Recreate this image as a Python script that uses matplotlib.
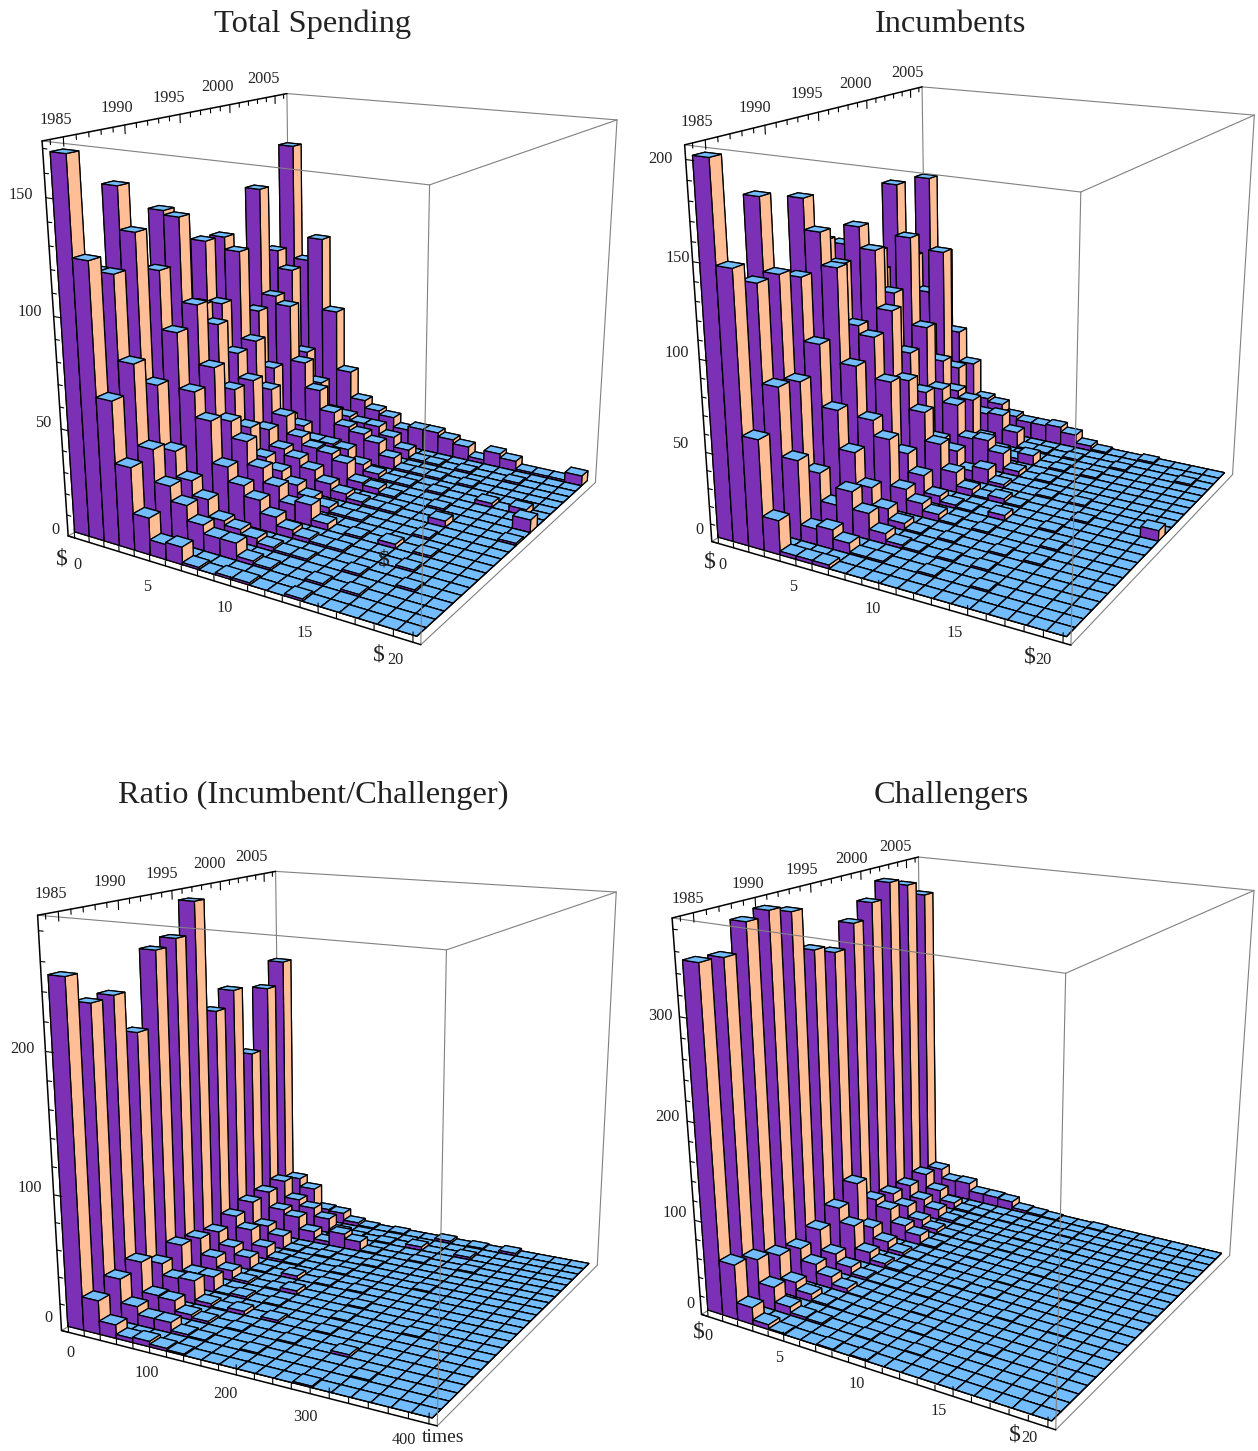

import numpy as np, matplotlib
matplotlib.use('Agg')
import matplotlib.pyplot as plt

W, H = 1258, 1451
plt.rcParams['font.family'] = ['Liberation Serif', 'DejaVu Serif']

years = list(range(1984, 2007))
election_years = list(range(1984, 2007, 2))

def pad(rows):
    return [list(r) + [0] * (20 - len(r)) for r in rows]

total_spending = pad([
    [168,125,66,38,17,7,8,1,0,1,1,0,0,1],
    [116,116,78,41,26,19,12,8,8,2,1,0,0,1,0,1],
    [150,131,64,35,23,16,8,6,4,2,1,1,0,0,1,0,0,1],
    [110,111,84,58,46,26,19,14,8,4,2,1,1,0,0,0,1],
    [134,132,93,65,41,33,22,15,8,10,3,0,1,0,2,0,1],
    [60,88,80,50,33,20,15,10,6,3,1,1,0,0,0,1],
    [114,85,62,50,27,19,16,12,7,4,2,1,1,0,0,3,0,0,0,1],
    [113,107,64,41,29,20,16,15,12,4,3,1,0,0,1,0,0,0,0,6],
    [70,74,46,22,19,13,13,12,6,3,1,1,0,1,0,0,2,0,3],
    [131,78,74,46,33,23,17,15,12,6,1,1,1,0,1],
    [97,88,46,31,17,16,14,14,10,5,1,1,0,1,0,0,1],
    [148,90,102,65,34,20,16,14,9,11,11,9,7,2,7,5,1,1,1,5],
])
incumbents = pad([
    [201,148,61,19,2,2,2],
    [130,136,83,45,9,11,6,1,1,0,0,1,0,0,1],
    [175,136,80,31,15,25,15,6,2,1,0,1,0,1],
    [120,130,95,60,38,20,10,4,1,0,1,0,0,1,0,1],
    [167,150,132,79,50,41,14,8,4,1,0,1,0,0,0,1],
    [140,128,95,90,66,26,15,5,2,1,0,3,0,0,1],
    [134,145,133,100,61,44,27,12,4,1,3,1,0,0,0,1,0,0,0,6],
    [120,127,104,70,48,21,16,6,9,2,0,0,1,0,1],
    [110,86,132,80,44,36,17,18,12,3,0,1],
    [157,70,73,54,37,33,11,5,2,6,0,1,0,1],
    [110,89,115,44,24,18,19,10,1,1,0,1,0,0,1,0,0,0,1],
    [154,109,60,41,20,18,12,10,10,11,8,3,1,0,0,1],
])
ratio = pad([
    [250,25,10,3,4,2,1,0,0,0,0,0,0,1],
    [228,32,14,8,8,2,1,0,0,1,0,0,0,0,0,1],
    [229,36,13,12,4,2,0,1,0,0,1,0,0,2],
    [198,26,17,18,3,1,3,0,2,0,0,1],
    [253,32,12,12,1,2,0,1,0,0,0,1,0,0,0,1],
    [258,29,16,8,2,0,1,3,0,0,0,1],
    [282,26,16,10,1,0,3,0,1,0,1],
    [195,31,22,10,2,1,0,0,1,0,0,0,0,1],
    [207,35,17,11,1,0,1,0,0,1],
    [151,36,23,19,9,3,12,8,1,0,0,1,0,0,1],
    [200,38,24,19,12,3,1,0,1,0,3,0,0,2],
    [218,33,26,10,9,3,1,0,1,0,0,2,0,1,0,2],
])
challengers = pad([
    [350,58,18,5,1,0,0,1,0,1],
    [348,50,25,9,3,2,0,0,1,0,0,1],
    [375,41,16,8,2,1,0,1,0,0,1,0,0,0,1],
    [380,35,22,13,5,1,0,0,0,1],
    [373,43,20,10,3,1,1,0,1,0,0,0,0,1,0,0,1],
    [329,55,39,13,5,2,0,0,0,1,0,1],
    [320,71,24,12,4,1,0,1,0,0,0,1,0,0,0,1],
    [344,40,33,18,11,2,0,0,1,0,0,0,1],
    [360,35,24,12,5,1,0,1,0,1],
    [376,33,20,12,3,1,0,0,0,1,0,0,1],
    [368,35,19,8,2,1,0,1,0,0,0,1],
    [352,30,19,20,11,11,10,3,2,1,0,0,1],
])

PURPLE, PEACH, BLUE = '#7B30B5', '#FFBE96', '#73BDFF'
S = 800
ylim = (1983.4, 2006.4)

panels = [
 dict(title='Total Spending', tc=(313,24), data=total_spending, u=1, xlim=(-.45,20.4), zmax=173, zminor=10, zmajor=50,
      cam=(17.0329,-58.4540,-1.1701,1.0020,0.9899,0.8358,332.8548,337.9120),
      ylab=[(56,120),(117,108),(169,98),(218,87),(264,79)],
      zlab=[('150',21,195),('100',30,312),('50',43,423),('0',55,530)],
      xlab=[('5',147,587),('10',225,608),('15',305,633),('0',77,565),('20',395,660)],
      dollars=[(62,559),(379,655),(384,560)]),
 dict(title='Incumbents', tc=(951,24), data=incumbents, u=1, xlim=(-.45,20.4), zmax=207, zminor=10, zmajor=50,
      cam=(18.1694,-60.6967,-1.1383,1.0268,1.0038,0.8380,975.0538,336.9343),
      ylab=[(697,122),(755,108),(807,94),(855,84),(908,73)],
      zlab=[('200',660,159),('150',678,258),('100',677,353),('50',680,444),('0',699,530)],
      xlab=[('5',793,587),('10',873,609),('15',955,633),('0',722,565),('20',1043,660)],
      dollars=[(710,562),(1030,657)]),
 dict(title='Ratio (Incumbent/Challenger)', tc=(313,795), data=ratio, u=20, xlim=(-9,408), zmax=290, zminor=20, zmajor=100,
      cam=(15.5265,-61.4715,-1.1082,1.0238,1.0047,0.8604,333.4761,1117.8131),
      ylab=[(51,894),(110,882),(162,874),(209,864),(252,857)],
      zlab=[('200',22,1049),('100',30,1188),('0',48,1318)],
      xlab=[('0',70,1353),('100',147,1373),('200',225,1394),('300',305,1417),('400',404,1440)],
      dollars=[]),
 dict(title='Challengers', tc=(951,795), data=challengers, u=1, xlim=(-.45,20.4), zmax=390, zminor=20, zmajor=100,
      cam=(19.2244,-58.7482,-1.1483,1.0025,0.9994,0.8451,966.5347,1113.5449),
      ylab=[(688,899),(748,884),(802,870),(852,859),(895,847)],
      zlab=[('300',660,1016),('200',667,1117),('100',675,1213),('0',690,1304)],
      xlab=[('5',779,1358),('10',857,1384),('15',939,1411),('0',708,1336),('20',1029,1438)],
      dollars=[(699,1332),(1015,1435)]),
]

fig = plt.figure(figsize=(W/100, H/100), dpi=100)

def ftext(x, y, s, size=11.7, **kw):
    fig.text(x/W, 1-y/H, s, fontsize=size, ha='center', va='center', color='#222222', parse_math=False, **kw)

for P in panels:
    e, a, lf, b, c_, zoom, cx, cy = P['cam']
    ax = fig.add_axes([(cx-S/2)/W, 1-(cy+S/2)/H, S/W, S/H], projection='3d')
    ax.set_axis_off()
    ax.patch.set_alpha(0)
    ax.computed_zorder = False
    ax.view_init(e, a)
    ax.set_proj_type('persp', focal_length=float(np.exp(lf)))
    ax.set_box_aspect((1, b, c_), zoom=zoom)
    x0, x1 = P['xlim']; y0, y1 = ylim; zm = P['zmax']; u = P['u']
    ax.set_xlim(x0, x1); ax.set_ylim(y0, y1); ax.set_zlim(0, zm)

    def line(p, q, color='#808080', lw=.8, z=1):
        ax.plot([p[0],q[0]], [p[1],q[1]], [p[2],q[2]], color=color, lw=lw, zorder=z, clip_on=False, solid_capstyle='round')

    A_,A = (x0,y0,zm),(x0,y0,0)
    B_,B = (x1,y0,zm),(x1,y0,0)
    C_,C = (x1,y1,zm),(x1,y1,0)
    D_,D = (x0,y1,zm),(x0,y1,0)
    line(D_, D); line(C_, D_); line(A, D)
    values = {yr: row for yr, row in zip(election_years, P['data'])}
    zo = 10
    rows = len(years)
    cw = 1.02 * u
    rw = .975
    for i in range(rows-1, -1, -1):
        row = values.get(years[i], [0]*20)
        ys = 1984.0 + rw*i
        for c in range(20):
            col = ax.bar3d(-.5*u + c*cw, ys, 0, cw, rw, row[c],
                           color=[BLUE,BLUE,PURPLE,BLUE,PEACH,PEACH],
                           edgecolor='k', linewidth=.9, shade=False, zorder=zo)
            col.set_clip_on(False)
            zo += 1
    ax.set_xlim(x0, x1); ax.set_ylim(y0, y1); ax.set_zlim(0, zm)
    top = zo + 10
    for p, q in [(A_,B_),(B_,C_),(B_,B),(C_,C),(B,C)]:
        line(p, q, z=top)
    for p, q in [(A_,D_),(A_,A),(A,B)]:
        line(p, q, color='k', lw=1.1, z=top)
    for yr in range(1984, 2007):
        l = .022 if yr % 5 == 0 else .012
        line((x0,yr,zm), (x0,yr,zm*(1-l)), color='k', lw=.8, z=top)
    for v in np.arange(0, zm, P['zminor']):
        l = .5 if v % P['zmajor'] == 0 else .28
        line((x0,y0,v), (x0+l*u,y0,v), color='k', lw=.8, z=top)
    for v in range(0, 21):
        l = .025 if v % 5 == 0 else .014
        line((v*u,y0,0), (v*u,y0,zm*l), color='k', lw=.8, z=top)
    for (xt, yt), lab in zip(P['ylab'], ['1985','1990','1995','2000','2005']):
        ftext(xt, yt, lab)
    for lab, xt, yt in P['zlab']:
        ftext(xt, yt, lab)
    for lab, xt, yt in P['xlab']:
        ftext(xt, yt, lab)
    for xt, yt in P['dollars']:
        ftext(xt, yt, '$', 17)
    ftext(P['tc'][0], P['tc'][1], P['title'], 23.4)

ftext(443, 1437, 'times', 14)
fig.savefig('out.png', dpi=100)
